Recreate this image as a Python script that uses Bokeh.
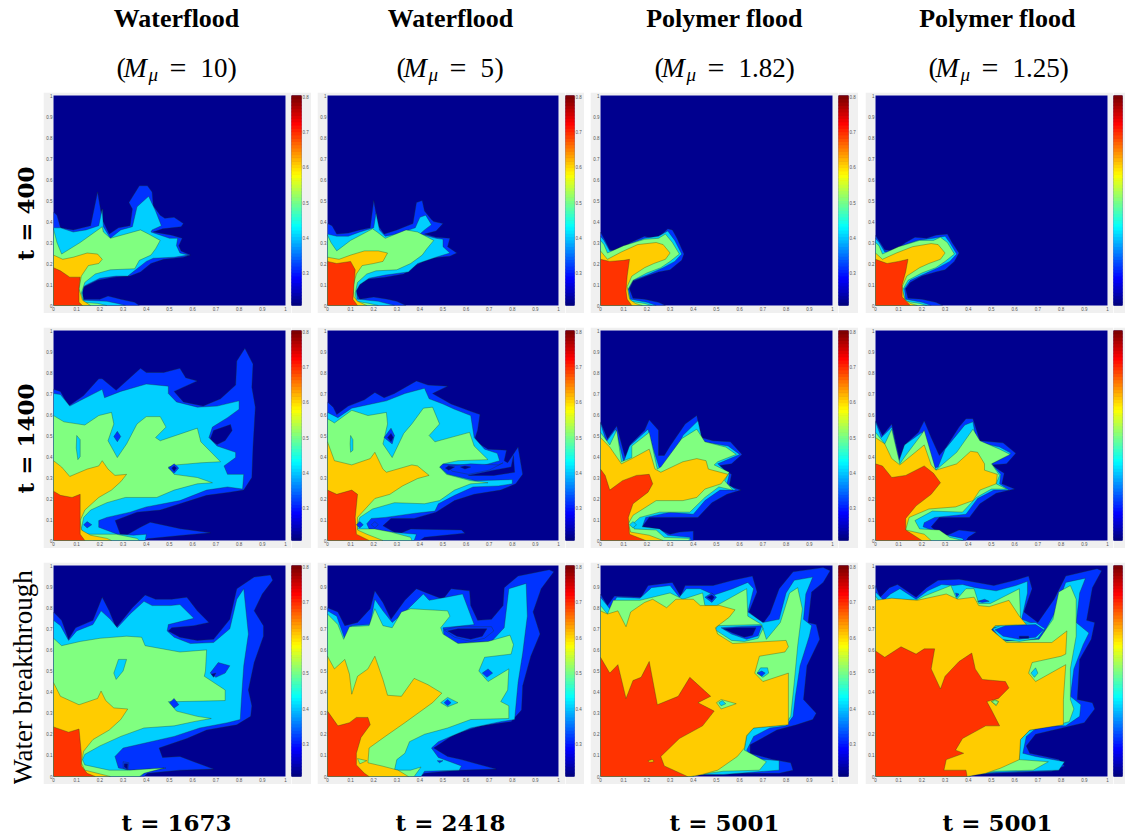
from bokeh.plotting import figure
from bokeh.layouts import row, column
from bokeh.models import Range1d, FixedTicker, Spacer
from bokeh.core.properties import value
from bokeh.embed import file_html
from bokeh.resources import INLINE
import numpy as np

LEVEL_COLORS = ["#00008F", "#0033FF", "#00CFFF", "#80FF80", "#FFCC00", "#FF3300"]
TITLES = ["Waterflood", "Waterflood", "Polymer flood", "Polymer flood"]
MOBILITY = ["10", "5", "1.82", "1.25"]
TIMES_TOP = ["t = 400", "t = 1400", "Water breakthrough"]
TIMES_BOTTOM = ["t = 1673", "t = 2418", "t = 5001", "t = 5001"]
X_TICKS = [0, .1, .2, .3, .4, .5, .6, .7, .8, .9, 1]
CB_TICKS = [.3, .4, .5, .6, .7, .8]

# each layer: (level index, flat x,y list); later layers paint over earlier ones
P00 = [
 (1,[0,0,0,.445,.015,.43,.03,.37,.085,.36,.16,.38,.19,.54,.21,.41,.24,.34,.28,.37,.33,.38,.34,.46,.325,.49,.37,.57,.405,.57,.425,.54,.43,.475,.46,.43,.48,.415,.52,.42,.56,.39,.55,.375,.47,.365,.43,.35,.51,.335,.555,.32,.54,.285,.55,.26,.59,.24,.56,.23,.475,.22,.42,.2,.375,.16,.33,.14,.26,.135,.19,.12,.135,.09,.12,.07,.13,.03,.2,.03,.235,.045,.29,.03,.35,.015,.37,0]),
 (2,[0,0,0,.37,.03,.37,.085,.35,.14,.36,.195,.38,.21,.46,.215,.375,.245,.32,.29,.36,.34,.375,.36,.47,.41,.52,.44,.45,.465,.38,.425,.36,.42,.35,.5,.32,.535,.32,.53,.285,.545,.25,.58,.24,.52,.23,.43,.225,.4,.21,.36,.175,.32,.14,.27,.14,.2,.13,.145,.1,.13,.09,.125,.06,.13,.025,.23,.02,.275,.01,.31,0]),
 (3,[0,0,0,.365,.015,.3,.035,.245,.115,.3,.21,.375,.215,.35,.245,.32,.375,.36,.41,.34,.46,.31,.44,.27,.42,.24,.37,.215,.35,.175,.245,.17,.18,.15,.135,.11,.12,.06,.13,.015,.19,.01,.23,0]),
 (4,[0,0,0,.24,.04,.22,.085,.23,.145,.25,.19,.245,.21,.22,.195,.2,.15,.19,.12,.14,.11,.08,.125,.025,.16,0]),
 (5,[0,0,0,.18,.03,.165,.07,.135,.115,.135,.11,.08,.11,.015,.125,0]),
]
P01 = [
 (1,[0,0,0,.39,.02,.38,.04,.34,.09,.345,.14,.36,.185,.37,.2,.5,.22,.38,.245,.34,.3,.36,.37,.39,.385,.49,.41,.5,.42,.45,.45,.41,.46,.4,.5,.39,.47,.355,.42,.34,.47,.325,.53,.32,.52,.28,.56,.25,.53,.235,.44,.225,.38,.19,.33,.15,.25,.135,.17,.125,.13,.09,.12,.07,.14,.03,.2,.04,.26,.03,.3,.02,.34,0]),
 (2,[0,0,0,.34,.04,.33,.09,.33,.14,.35,.2,.37,.21,.44,.225,.36,.25,.33,.3,.34,.38,.37,.4,.42,.425,.43,.45,.385,.42,.36,.4,.34,.47,.32,.5,.315,.5,.28,.53,.25,.47,.23,.39,.2,.35,.16,.25,.145,.18,.13,.14,.1,.125,.07,.13,.03,.22,.02,.29,0]),
 (3,[0,0,0,.335,.015,.3,.04,.26,.1,.31,.195,.365,.215,.35,.25,.32,.34,.36,.39,.35,.46,.31,.43,.27,.41,.24,.36,.2,.3,.17,.21,.165,.17,.15,.13,.11,.12,.06,.125,.02,.18,.01,.22,0]),
 (4,[0,0,0,.23,.05,.22,.1,.24,.16,.26,.22,.26,.26,.25,.24,.21,.2,.2,.15,.19,.125,.15,.11,.09,.115,.04,.13,.02,.17,0]),
 (5,[0,0,0,.21,.04,.2,.1,.21,.12,.17,.115,.1,.11,.03,.13,0]),
]
P02 = [
 (1,[0,0,0,.35,.02,.31,.04,.265,.08,.26,.13,.3,.19,.33,.22,.32,.26,.335,.29,.365,.31,.36,.33,.32,.36,.245,.35,.215,.3,.17,.25,.16,.2,.14,.14,.115,.125,.08,.14,.035,.19,.03,.25,.015,.28,0]),
 (2,[0,0,0,.33,.015,.31,.04,.26,.08,.255,.13,.295,.19,.32,.25,.33,.29,.355,.32,.31,.35,.245,.32,.21,.27,.18,.2,.145,.14,.12,.12,.08,.13,.03,.2,.015,.24,0]),
 (3,[0,0,0,.31,.015,.29,.03,.25,.1,.285,.19,.315,.25,.32,.28,.34,.31,.3,.34,.245,.3,.21,.26,.18,.2,.155,.14,.12,.115,.07,.13,.02,.19,.01,.22,0]),
 (4,[0,0,0,.26,.03,.22,.09,.255,.16,.29,.24,.3,.27,.29,.3,.25,.28,.22,.23,.2,.19,.18,.135,.14,.115,.09,.125,.03,.15,.01,.18,0]),
 (5,[0,0,0,.22,.04,.21,.1,.215,.125,.22,.115,.14,.11,.07,.115,.03,.135,0]),
]
P03 = [
 (1,[0,0,0,.335,.02,.3,.04,.265,.08,.26,.13,.3,.17,.325,.22,.32,.26,.335,.31,.34,.33,.3,.36,.25,.34,.21,.3,.17,.26,.16,.2,.14,.15,.11,.13,.08,.14,.035,.2,.03,.26,.015,.29,0]),
 (2,[0,0,0,.32,.015,.3,.04,.255,.08,.25,.13,.29,.18,.31,.25,.32,.3,.33,.32,.3,.35,.245,.32,.21,.27,.18,.2,.145,.15,.12,.125,.08,.13,.03,.2,.015,.24,0]),
 (3,[0,0,0,.3,.015,.285,.03,.245,.1,.28,.19,.31,.25,.31,.28,.325,.31,.3,.34,.245,.3,.21,.26,.18,.2,.155,.14,.12,.115,.07,.13,.02,.19,.01,.22,0]),
 (4,[0,0,0,.25,.03,.22,.09,.25,.16,.28,.24,.295,.27,.29,.3,.25,.28,.22,.23,.2,.19,.18,.135,.14,.115,.09,.125,.03,.15,.01,.18,0]),
 (5,[0,0,0,.22,.05,.2,.1,.21,.14,.22,.13,.16,.115,.1,.115,.04,.15,0]),
]
P10 = [
 (1,[0,0,0,.72,.03,.71,.065,.64,.13,.69,.195,.77,.21,.77,.27,.715,.325,.77,.375,.82,.40,.8,.475,.8,.545,.82,.57,.775,.62,.76,.56,.73,.52,.71,.56,.66,.645,.64,.72,.675,.785,.74,.79,.855,.825,.915,.86,.84,.855,.73,.87,.635,.86,.445,.855,.30,.82,.24,.76,.23,.66,.215,.46,.145,.36,.135,.266,.095,.288,.03,.317,.027,.374,.063,.417,.087,.547,.056,.676,.037,.547,.024,.403,.008,.396,0]),
 (0,[.676,.484,.69,.524,.763,.552,.77,.524,.74,.476,.705,.457,.67,.484]),
 (2,[0,0,0,.70,.03,.695,.07,.64,.13,.675,.21,.72,.22,.68,.29,.71,.40,.745,.495,.735,.495,.70,.53,.66,.62,.635,.705,.64,.80,.665,.80,.625,.75,.585,.685,.54,.67,.49,.705,.45,.785,.42,.785,.395,.735,.355,.75,.315,.82,.315,.815,.245,.75,.255,.66,.24,.545,.19,.40,.16,.33,.135,.23,.11,.195,.095,.195,.063,.275,.03,.345,.025,.40,.03,.395,0]),
 (3,[0,0,0,.595,.045,.565,.135,.55,.195,.595,.25,.61,.26,.555,.235,.475,.275,.395,.315,.46,.36,.555,.40,.59,.46,.59,.485,.54,.44,.49,.46,.475,.62,.535,.635,.47,.72,.375,.635,.37,.53,.36,.495,.35,.52,.315,.62,.30,.685,.275,.62,.27,.52,.24,.445,.205,.31,.205,.23,.18,.16,.145,.13,.11,.12,.055,.135,.03,.27,.03,.36,.01,.37,0]),
 (2,[.10,.50,.115,.48,.115,.40,.105,.385,.098,.44]),
 (1,[.26,.495,.275,.52,.29,.495,.275,.47]),
 (1,[.495,.345,.52,.365,.54,.345,.52,.32]),
 (0,[.51,.345,.52,.355,.53,.345,.52,.33]),
 (4,[0,0,0,.38,.035,.35,.07,.305,.145,.34,.195,.355,.21,.38,.235,.34,.265,.31,.315,.315,.29,.28,.25,.24,.195,.205,.135,.145,.115,.095,.12,.05,.16,.025,.23,.01,.25,0]),
 (5,[0,0,0,.235,.03,.215,.08,.205,.115,.22,.115,.095,.115,.03,.135,0]),
 (1,[.13,.075,.145,.09,.165,.075,.145,.06]),
]
P11 = [
 (1,[0,0,0,.66,.025,.635,.04,.60,.09,.64,.16,.67,.205,.705,.245,.68,.29,.70,.385,.76,.435,.74,.52,.735,.455,.70,.535,.65,.62,.615,.66,.60,.65,.525,.635,.475,.695,.435,.775,.43,.765,.38,.78,.37,.825,.445,.845,.315,.815,.27,.75,.24,.635,.22,.55,.19,.47,.135,.375,.105,.275,.105,.24,.07,.305,.03,.36,.055,.58,.05,.595,.035,.42,.015,.40,0]),
 (0,[.61,.31,.72,.335,.795,.35,.805,.405,.81,.325,.72,.31]),
 (2,[0,0,0,.61,.045,.585,.105,.63,.19,.65,.255,.665,.335,.70,.42,.725,.44,.675,.50,.65,.55,.625,.62,.595,.635,.49,.68,.435,.735,.415,.745,.38,.665,.355,.50,.365,.485,.35,.52,.315,.64,.285,.80,.29,.80,.27,.74,.26,.63,.255,.55,.215,.48,.175,.465,.14,.38,.13,.25,.11,.19,.105,.17,.08,.18,.055,.27,.04,.385,.03,.375,0]),
 (3,[0,0,0,.58,.03,.56,.105,.62,.175,.595,.255,.61,.26,.555,.24,.46,.28,.395,.33,.51,.365,.555,.415,.63,.455,.635,.485,.555,.44,.50,.465,.47,.615,.515,.635,.45,.695,.385,.565,.38,.50,.365,.485,.35,.515,.315,.62,.285,.695,.275,.62,.27,.55,.24,.485,.19,.42,.175,.29,.18,.195,.15,.14,.11,.125,.055,.13,.055,.205,.055,.275,.04,.36,.015,.365,0]),
 (1,[.52,.355,.62,.365,.74,.36,.76,.37,.70,.335,.61,.315,.54,.33]),
 (0,[.51,.345,.525,.355,.55,.35,.525,.335]),
 (0,[.575,.35,.595,.355,.62,.35,.595,.34]),
 (1,[.245,.49,.275,.535,.29,.5,.28,.46]),
 (0,[.26,.49,.275,.51,.285,.49,.275,.47]),
 (2,[.1,.5,.11,.48,.11,.43,.1,.42,.098,.46]),
 (4,[0,0,0,.47,.03,.38,.105,.36,.185,.39,.205,.42,.24,.34,.255,.325,.365,.36,.39,.355,.44,.31,.39,.295,.325,.26,.27,.22,.205,.2,.13,.11,.13,.05,.17,.03,.24,0]),
 (5,[0,0,0,.24,.04,.22,.105,.24,.13,.22,.12,.11,.125,.03,.18,0]),
 (1,[.125,.075,.14,.09,.155,.075,.14,.06]),
 (1,[.19,.075,.205,.09,.22,.075,.205,.06]),
]
P12 = [
 (1,[0,0,0,.565,.03,.485,.07,.545,.11,.38,.13,.46,.19,.525,.21,.575,.25,.525,.25,.405,.275,.405,.30,.45,.365,.555,.415,.595,.435,.49,.485,.475,.56,.47,.61,.41,.565,.365,.50,.355,.565,.315,.555,.26,.605,.24,.545,.22,.48,.18,.42,.11,.31,.11,.21,.11,.18,.065,.245,.055,.30,.03,.34,.04,.40,.045,.40,0]),
 (2,[0,0,0,.56,.025,.47,.065,.53,.10,.375,.125,.45,.205,.53,.225,.445,.255,.34,.31,.385,.355,.50,.42,.57,.44,.47,.55,.45,.60,.41,.505,.365,.555,.315,.545,.27,.585,.24,.515,.24,.45,.19,.40,.125,.30,.135,.195,.11,.18,.065,.255,.055,.29,.025,.385,.015,.39,0]),
 (3,[0,0,0,.515,.04,.455,.07,.525,.09,.375,.135,.395,.135,.45,.21,.515,.245,.34,.26,.35,.35,.485,.415,.53,.45,.47,.54,.445,.585,.41,.505,.375,.49,.36,.555,.325,.535,.285,.57,.24,.51,.255,.45,.205,.385,.135,.255,.135,.17,.11,.14,.08,.145,.055,.24,.05,.275,.015,.385,.01,.38,0]),
 (4,[0,0,0,.49,.04,.445,.09,.365,.135,.39,.21,.435,.235,.34,.26,.325,.355,.375,.415,.39,.455,.38,.465,.34,.55,.315,.52,.27,.45,.245,.415,.205,.355,.19,.24,.19,.14,.12,.12,.08,.13,.04,.21,.025,.27,0]),
 (5,[0,0,0,.34,.02,.31,.04,.24,.095,.285,.155,.31,.21,.315,.225,.27,.205,.23,.14,.175,.12,.11,.125,.03,.195,0]),
 (2,[.125,.075,.14,.09,.155,.075,.14,.06]),
]
P13 = [
 (1,[0,0,0,.57,.03,.50,.07,.555,.105,.38,.13,.46,.185,.515,.21,.57,.24,.49,.275,.405,.305,.445,.36,.54,.39,.58,.42,.58,.45,.475,.55,.465,.605,.415,.565,.365,.50,.36,.555,.32,.545,.27,.60,.245,.52,.225,.45,.175,.405,.11,.275,.11,.24,.065,.29,.015,.36,.05,.435,.04,.40,.015,.39,0]),
 (2,[0,0,0,.565,.025,.49,.07,.54,.10,.375,.125,.455,.2,.515,.24,.34,.27,.35,.30,.435,.385,.55,.42,.565,.435,.47,.535,.445,.585,.415,.50,.365,.54,.315,.535,.27,.575,.24,.51,.24,.44,.2,.39,.125,.255,.11,.21,.085,.205,.065,.29,.03,.375,.01,.38,0]),
 (3,[0,0,0,.515,.04,.46,.07,.53,.105,.365,.13,.405,.195,.50,.21,.525,.26,.335,.35,.42,.42,.53,.45,.475,.535,.435,.58,.41,.50,.365,.535,.31,.52,.27,.565,.245,.50,.245,.435,.205,.375,.135,.245,.14,.17,.095,.19,.055,.275,.05,.32,.015,.375,0]),
 (4,[0,0,0,.49,.04,.46,.07,.39,.105,.36,.21,.455,.24,.36,.26,.335,.35,.365,.41,.425,.44,.42,.47,.365,.47,.335,.525,.315,.52,.27,.45,.24,.42,.19,.345,.16,.23,.15,.145,.11,.13,.05,.21,.03,.24,0]),
 (5,[0,0,0,.365,.03,.355,.07,.30,.13,.31,.21,.355,.25,.32,.28,.275,.24,.22,.175,.165,.13,.105,.13,.05,.2,0]),
]
P20 = [
 (1,[0,0,0,.78,.035,.74,.065,.65,.095,.705,.17,.74,.21,.85,.24,.785,.27,.705,.34,.80,.395,.86,.44,.84,.51,.84,.575,.85,.62,.785,.67,.73,.605,.715,.51,.705,.495,.69,.545,.66,.62,.645,.69,.65,.76,.745,.79,.89,.865,.945,.935,.955,.945,.93,.90,.865,.865,.785,.905,.715,.905,.665,.865,.54,.84,.41,.855,.335,.85,.285,.79,.245,.66,.22,.575,.18,.455,.135,.47,.09,.545,.095,.605,.07,.69,.035,.545,.03,.405,.015,.39,0]),
 (2,[0,0,0,.74,.03,.715,.065,.645,.10,.69,.17,.72,.205,.785,.245,.745,.275,.705,.33,.77,.39,.83,.425,.81,.505,.81,.545,.815,.605,.75,.495,.72,.49,.69,.52,.66,.59,.63,.69,.635,.76,.70,.79,.84,.82,.89,.84,.675,.82,.525,.81,.365,.805,.27,.75,.255,.63,.23,.52,.19,.40,.16,.30,.135,.265,.095,.28,.04,.33,.03,.485,.04,.40,.025,.375,0]),
 (1,[.30,.07,.325,.065,.32,.03,.30,.04]),
 (0,[.305,.06,.32,.06,.318,.035,.305,.045]),
 (3,[0,0,0,.655,.035,.62,.115,.64,.20,.655,.315,.665,.38,.66,.395,.62,.545,.59,.66,.60,.655,.50,.65,.475,.74,.41,.74,.36,.54,.355,.495,.355,.53,.31,.62,.285,.68,.275,.605,.26,.52,.24,.39,.23,.29,.19,.20,.145,.135,.105,.125,.08,.135,.055,.24,.03,.33,.03,.475,.04,.39,.015,.37,0]),
 (2,[.26,.49,.27,.46,.30,.50,.315,.555,.28,.555]),
 (1,[.50,.35,.52,.37,.54,.34,.52,.325]),
 (1,[.675,.49,.71,.54,.76,.525,.74,.49,.70,.47]),
 (0,[.68,.485,.70,.49,.69,.47]),
 (4,[0,0,0,.445,.03,.38,.11,.34,.19,.37,.205,.405,.225,.36,.26,.325,.32,.32,.29,.27,.24,.22,.17,.175,.13,.12,.12,.065,.135,.03,.245,0]),
 (5,[0,0,0,.235,.065,.21,.11,.225,.12,.11,.12,.05,.145,.015,.18,0]),
]
P21 = [
 (1,[0,0,0,.80,.045,.78,.075,.715,.13,.73,.185,.795,.205,.88,.24,.825,.275,.745,.335,.835,.385,.89,.43,.87,.50,.84,.535,.89,.615,.88,.62,.81,.65,.74,.71,.745,.76,.81,.765,.895,.825,.95,.96,.98,.98,.97,.925,.89,.89,.78,.92,.675,.88,.57,.845,.43,.84,.315,.795,.26,.665,.24,.55,.2,.46,.135,.52,.095,.58,.08,.73,.035,.565,.03,.42,.015,.40,0]),
 (2,[0,0,0,.785,.04,.76,.075,.65,.105,.715,.185,.72,.205,.84,.24,.785,.28,.73,.335,.78,.415,.865,.44,.835,.515,.85,.585,.865,.635,.72,.50,.705,.505,.665,.565,.63,.71,.64,.765,.705,.785,.89,.86,.915,.865,.76,.845,.585,.825,.445,.81,.27,.75,.26,.62,.23,.48,.165,.45,.135,.48,.09,.58,.05,.57,.03,.42,.025,.405,0]),
 (1,[.505,.695,.565,.71,.71,.71,.72,.69,.68,.655,.62,.64,.55,.66]),
 (0,[.52,.69,.565,.70,.69,.70,.67,.665,.62,.65,.56,.665]),
 (1,[.475,.075,.50,.075,.485,.065]),
 (3,[0,0,0,.77,.045,.72,.07,.65,.095,.71,.18,.715,.205,.795,.24,.715,.28,.705,.32,.78,.36,.795,.52,.785,.53,.76,.49,.705,.50,.675,.565,.63,.695,.64,.79,.67,.805,.625,.795,.58,.68,.565,.655,.5,.695,.45,.785,.51,.78,.41,.75,.355,.785,.335,.785,.275,.62,.27,.52,.23,.42,.2,.355,.165,.335,.11,.30,.08,.29,.03,.36,.03,.405,.045,.375,0]),
 (2,[.49,.35,.52,.375,.565,.35,.52,.33]),
 (1,[.505,.35,.52,.365,.535,.35,.52,.335]),
 (1,[.67,.49,.695,.51,.715,.49,.69,.47]),
 (4,[0,0,0,.57,.03,.51,.075,.555,.095,.485,.105,.39,.13,.475,.175,.51,.205,.57,.24,.46,.26,.385,.32,.38,.375,.465,.435,.435,.495,.395,.455,.35,.335,.255,.25,.19,.18,.135,.175,.065,.235,.05,.305,.03,.35,0]),
 (3,[.13,.085,.17,.075,.14,.06]),
 (5,[0,0,0,.31,.045,.24,.095,.255,.125,.28,.175,.28,.185,.245,.145,.185,.125,.11,.125,.055,.16,.015,.18,0]),
]
P22 = [
 (1,[0,0,0,.865,.03,.81,.06,.855,.175,.85,.205,.905,.31,.92,.345,.855,.365,.905,.485,.905,.57,.93,.655,.95,.675,.875,.64,.78,.70,.725,.73,.77,.77,.89,.83,.97,.96,.99,.99,.975,.96,.92,.91,.875,.895,.73,.93,.72,.945,.65,.89,.525,.875,.365,.93,.30,.915,.27,.845,.245,.76,.22,.645,.15,.645,.11,.745,.08,.82,.065,.83,.03,.77,.015,.555,.015,.41,.01,.40,0]),
 (2,[0,0,0,.85,.04,.795,.07,.85,.17,.845,.22,.895,.30,.905,.34,.85,.37,.89,.43,.89,.49,.86,.57,.89,.635,.92,.66,.89,.635,.78,.70,.73,.77,.745,.80,.87,.835,.93,.915,.945,.885,.865,.875,.745,.91,.715,.90,.665,.86,.525,.84,.38,.83,.285,.80,.24,.73,.23,.66,.19,.63,.125,.66,.085,.77,.075,.77,.03,.53,.01,.41,.01,.40,0]),
 (3,[0,0,0,.81,.03,.77,.055,.835,.17,.835,.30,.87,.355,.84,.44,.87,.45,.81,.50,.81,.63,.89,.635,.76,.695,.72,.715,.65,.775,.73,.815,.87,.85,.895,.87,.795,.85,.62,.835,.445,.82,.285,.795,.245,.66,.23,.63,.19,.62,.125,.715,.07,.685,.03,.53,.025,.43,.01,.40,0]),
 (2,[.505,.715,.69,.72,.70,.70,.68,.655,.62,.64,.565,.645,.495,.695]),
 (1,[.52,.705,.59,.71,.695,.715,.68,.667,.63,.65,.565,.675]),
 (0,[.53,.70,.585,.705,.67,.705,.655,.67,.62,.66,.57,.68]),
 (1,[.45,.85,.48,.87,.50,.85,.48,.825]),
 (0,[.46,.85,.48,.86,.49,.85,.48,.835]),
 (4,[0,0,0,.785,.03,.77,.075,.785,.11,.71,.13,.78,.19,.825,.225,.84,.285,.80,.325,.84,.40,.84,.43,.81,.515,.81,.58,.79,.555,.755,.495,.705,.505,.675,.57,.63,.80,.645,.81,.615,.795,.59,.685,.57,.665,.49,.70,.45,.81,.49,.81,.245,.66,.23,.63,.195,.62,.135,.59,.095,.505,.03,.44,.01,.39,0]),
 (3,[.50,.35,.52,.365,.585,.345,.52,.32]),
 (2,[.51,.35,.525,.36,.54,.345,.52,.335]),
 (2,[.675,.49,.69,.515,.72,.515,.725,.49,.70,.47]),
 (1,[.675,.49,.695,.5,.71,.49,.695,.475]),
 (5,[0,0,0,.565,.04,.49,.075,.53,.11,.37,.14,.455,.175,.47,.21,.545,.245,.34,.335,.38,.385,.47,.475,.38,.42,.35,.49,.31,.44,.24,.34,.18,.26,.095,.275,.05,.375,0]),
 (4,[.205,.075,.225,.08,.23,.07,.21,.068]),
]
P23 = [
 (1,[0,0,0,.905,.02,.85,.06,.895,.095,.91,.175,.85,.22,.895,.27,.93,.36,.935,.51,.905,.60,.93,.66,.95,.675,.89,.64,.78,.70,.73,.77,.84,.82,.95,.955,.985,.975,.975,.935,.895,.91,.74,.945,.73,.93,.65,.88,.555,.87,.365,.935,.35,.945,.32,.90,.255,.805,.23,.69,.2,.65,.145,.665,.11,.79,.08,.815,.05,.76,.025,.52,.015,.43,.01,.405,0]),
 (2,[0,0,0,.875,.035,.835,.065,.865,.105,.89,.175,.84,.225,.88,.285,.91,.335,.905,.375,.91,.43,.895,.52,.88,.605,.905,.655,.925,.655,.87,.63,.745,.69,.72,.50,.705,.51,.665,.60,.63,.705,.64,.77,.77,.82,.92,.905,.94,.88,.87,.865,.73,.92,.68,.895,.625,.855,.51,.84,.38,.885,.34,.88,.285,.82,.24,.705,.24,.65,.19,.635,.11,.69,.095,.815,.07,.79,.03,.52,.02,.42,.01,.405,0]),
 (3,[0,0,0,.855,.04,.795,.055,.84,.095,.84,.175,.835,.21,.855,.325,.905,.35,.84,.39,.89,.425,.89,.445,.82,.495,.82,.62,.89,.625,.755,.52,.715,.495,.695,.54,.64,.705,.65,.765,.745,.79,.875,.84,.905,.865,.84,.865,.665,.84,.51,.84,.365,.855,.32,.835,.26,.765,.24,.665,.22,.625,.175,.62,.08,.745,.07,.68,.03,.52,.025,.42,.01,.405,0]),
 (2,[.505,.70,.55,.72,.69,.73,.73,.70,.70,.655,.62,.64,.54,.65]),
 (1,[.515,.695,.56,.715,.69,.72,.725,.695,.69,.66,.62,.65,.55,.665]),
 (0,[.62,.665,.66,.665,.66,.655,.62,.655]),
 (1,[.44,.83,.47,.84,.49,.83,.46,.825]),
 (1,[.345,.87,.35,.85,.36,.865]),
 (4,[0,0,0,.835,.07,.845,.18,.835,.305,.865,.355,.84,.425,.85,.445,.81,.49,.805,.575,.835,.62,.76,.65,.72,.515,.715,.50,.695,.565,.635,.76,.635,.825,.69,.82,.58,.80,.57,.675,.54,.66,.49,.69,.45,.82,.53,.81,.365,.81,.245,.665,.22,.625,.175,.62,.08,.54,.04,.475,.015,.395,0]),
 (3,[.50,.355,.515,.365,.53,.355,.52,.335]),
 (2,[.67,.49,.69,.515,.70,.49,.685,.47]),
 (5,[0,0,0,.595,.04,.565,.11,.615,.175,.58,.21,.605,.255,.605,.24,.51,.28,.415,.30,.475,.36,.545,.415,.585,.43,.51,.46,.46,.56,.45,.575,.42,.53,.37,.48,.355,.50,.315,.535,.24,.475,.24,.375,.18,.345,.125,.38,.11,.305,.08,.295,.03,.39,.03,.395,0]),
 (3,[.50,.355,.515,.36,.53,.355,.52,.34]),
]
PANELS = [[P00, P01, P02, P03], [P10, P11, P12, P13], [P20, P21, P22, P23]]

LEFT_BORDER = [10, 10, 9, 9]
FRAME_W = [232, 231, 232, 232]
GAP_TO_BAR = [6, 7, 6, 6]
BAR_W = [10, 9, 10, 9]
RIGHT_BORDER = [9, 9, 8, 3]
COL_GAP = [6, 6, 7, 0]
FRAME_H = [210, 210, 211]
GREY = "#F0F0F0"
LINE = "#1a3a20"

def jet(t):
    r = np.clip(1.5 - abs(4 * t - 3), 0, 1)
    g = np.clip(1.5 - abs(4 * t - 2), 0, 1)
    b = np.clip(1.5 - abs(4 * t - 1), 0, 1)
    return "#%02x%02x%02x" % (int(r * 255), int(g * 255), int(b * 255))

def style_axis(ax):
    ax.axis_line_color = None
    ax.major_tick_line_color = None
    ax.minor_tick_line_color = None
    ax.major_tick_out = 0
    ax.major_tick_in = 0
    ax.minor_tick_out = 0
    ax.minor_tick_in = 0
    ax.major_label_text_font_size = "4.5px"
    ax.major_label_text_color = "#555555"
    ax.major_label_text_font = "Liberation Sans"
    ax.major_label_standoff = 1

def panel(layers, c, r):
    p = figure(frame_width=FRAME_W[c], frame_height=FRAME_H[r], x_range=Range1d(0, 1), y_range=Range1d(0, 1),
               toolbar_location=None, output_backend="svg", min_border_left=LEFT_BORDER[c],
               min_border_right=GAP_TO_BAR[c], min_border_top=3, min_border_bottom=8,
               background_fill_color=LEVEL_COLORS[0], border_fill_color=GREY, outline_line_color=None)
    p.grid.visible = False
    labels = {t: ("%g" % t) for t in X_TICKS}
    for ax in (p.xaxis[0], p.yaxis[0]):
        ax.ticker = FixedTicker(ticks=X_TICKS)
        ax.major_label_overrides = labels
        style_axis(ax)
    for lev, flat in layers:
        p.patch(flat[0::2], flat[1::2], fill_color=LEVEL_COLORS[lev], line_color=LINE, line_width=0.6, line_alpha=0.55)
    return p

def colorbar(c, r):
    p = figure(frame_width=BAR_W[c], frame_height=FRAME_H[r], x_range=Range1d(0, 1), y_range=Range1d(.2085, .803),
               toolbar_location=None, output_backend="svg", y_axis_location="right", x_axis_type=None,
               min_border_left=0, min_border_right=RIGHT_BORDER[c], min_border_top=3, min_border_bottom=8,
               background_fill_color="#00007F", border_fill_color=GREY, outline_line_color=None)
    p.grid.visible = False
    edges = np.linspace(.2085, .803, 65)
    cols = [jet(t) for t in np.linspace(0, 1, 64)]
    p.quad(left=0, right=1, bottom=edges[:-1], top=edges[1:], fill_color=cols, line_color=cols, line_width=1)
    ax = p.yaxis[0]
    ax.ticker = FixedTicker(ticks=CB_TICKS)
    ax.major_label_overrides = {t: ("%g" % t) for t in CB_TICKS}
    style_axis(ax)
    if c == 3:
        ax.visible = False
    return p

def canvas(w, h, x0, y0):
    p = figure(frame_width=w, frame_height=h, x_range=Range1d(x0, x0 + w), y_range=Range1d(y0 + h, y0),
               toolbar_location=None, output_backend="svg", x_axis_type=None, y_axis_type=None,
               min_border=0, outline_line_color=None, border_fill_color="white", background_fill_color="white")
    p.grid.visible = False
    return p

SERIF = value("Liberation Serif")
header = canvas(1125, 92, 0, 0)
CENTERS = [176, 450, 724, 997]
STARTS = [116, 396, 654, 928]
VAL_W = [26, 13, 46, 46]
header.text(x=CENTERS, y=[18] * 4, text=TITLES, text_font=SERIF, text_font_style="bold",
            text_font_size="26px", text_align="center", text_baseline="middle", text_color="black")
for s, v, w in zip(STARTS, MOBILITY, VAL_W):
    header.text(x=[s], y=[67], text=["("], text_font=SERIF, text_font_size="28px", text_baseline="middle")
    header.text(x=[s + 7], y=[67], text=["M"], text_font=SERIF, text_font_style="italic", text_font_size="28px", text_baseline="middle")
    header.text(x=[s + 32], y=[74], text=["μ"], text_font=SERIF, text_font_style="italic", text_font_size="19px", text_baseline="middle")
    header.text(x=[s + 53], y=[67], text=["="], text_font=SERIF, text_font_size="30px", text_baseline="middle")
    header.text(x=[s + 84], y=[67], text=[v], text_font=SERIF, text_font_size="27px", text_baseline="middle")
    header.text(x=[s + 85 + w], y=[67], text=[")"], text_font=SERIF, text_font_size="28px", text_baseline="middle")

left = canvas(43, 692, 0, 92)
left.text(x=[25, 25], y=[213, 438], text=TIMES_TOP[:2], text_font=value("DejaVu Serif"), text_font_style="bold",
          text_font_size="23px", angle=np.pi / 2, text_align="center", text_baseline="middle")
left.text(x=[22], y=[677], text=TIMES_TOP[2:], text_font=SERIF, text_font_size="27px",
          angle=np.pi / 2, text_align="center", text_baseline="middle")

footer = canvas(1125, 54, 0, 784)
footer.text(x=CENTERS, y=[822] * 4, text=TIMES_BOTTOM, text_font=value("DejaVu Serif"), text_font_style="bold",
            text_font_size="23px", text_align="center", text_baseline="middle")

rows = []
for r, panels in enumerate(PANELS):
    kids = []
    for c, layers in enumerate(panels):
        kids.append(panel(layers, c, r))
        kids.append(colorbar(c, r))
        if COL_GAP[c]:
            kids.append(Spacer(width=COL_GAP[c], height=10))
    rows.append(row(*kids, spacing=0))
    if r < 2:
        rows.append(Spacer(width=10, height=14))

root = column(header, row(left, column(*rows, spacing=0), spacing=0), footer, spacing=0)
root.styles = {"position": "absolute", "left": "0px", "top": "0px"}
open("out.html", "w").write(file_html(root, INLINE))
